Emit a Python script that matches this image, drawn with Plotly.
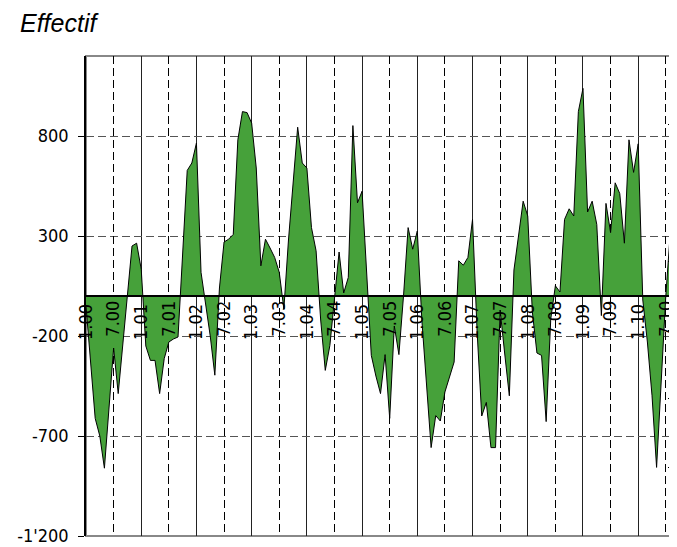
import plotly.graph_objects as go

# Monthly values, Jan 2000 (index 0) to Sep 2010 (index 128)
values = [
    -50, -330, -612, -700, -861, -560, -260, -488, -240, -30,
    250, 264, 134, -250, -322, -322, -488, -313, -230, -215,
    -205, 210, 628, 665, 765, 118, -35, -200, -396, 40,
    270, 284, 308, 781, 922, 917, 864, 640, 151, 284,
    240, 193, 118, -65, 280, 560, 844, 665, 640, 342,
    226, -120, -372, -247, -20, 220, 15, 93, 852, 466,
    524, 120, -297, -400, -488, -293, -612, -150, -293, 0,
    342, 234, 325, -125, -440, -758, -598, -625, -480, -400,
    -330, 176, 154, 193, 383, -180, -600, -532, -758, -758,
    -70, -290, -499, 130, 300, 474, 400, -80, -285, -297,
    -628, -115, 51, 20, 383, 436, 400, 922, 1038, 420,
    474, 358, -98, 463, 317, 566, 512, 264, 781, 618,
    761, -20, -230, -496, -857, -400, 0, 325, 134,
]
months = list(range(len(values)))

jan_ticks = [0, 12, 24, 36, 48, 60, 72, 84, 96, 108, 120]
jan_labels = ["1.00", "1.01", "1.02", "1.03", "1.04", "1.05",
              "1.06", "1.07", "1.08", "1.09", "1.10"]
jul_ticks = [6, 18, 30, 42, 54, 66, 78, 90, 102, 114, 126]
jul_labels = ["7.00", "7.01", "7.02", "7.03", "7.04", "7.05",
              "7.06", "7.07", "7.08", "7.09", "7.10"]
y_ticks = [-1200, -700, -200, 300, 800]
y_labels = ["-1'200", "-700", "-200", "300", "800"]

FONT = "Liberation Sans Narrow, DejaVu Sans Condensed, Liberation Sans, Arial, sans-serif"

fig = go.Figure()
fig.add_trace(go.Scatter(
    x=months, y=values, mode="lines", fill="tozeroy",
    fillcolor="rgb(70,161,58)", line=dict(color="black", width=1),
    hoverinfo="skip", showlegend=False,
))
# empty helper traces so that the overlaid axes get drawn
fig.add_trace(go.Scatter(x=[], y=[], xaxis="x2", yaxis="y", mode="lines",
                         hoverinfo="skip", showlegend=False))
fig.add_trace(go.Scatter(x=[], y=[], xaxis="x", yaxis="y2", mode="lines",
                         hoverinfo="skip", showlegend=False))

fig.update_layout(
    width=677, height=547,
    margin=dict(l=76, r=9, t=48, b=18),
    paper_bgcolor="white", plot_bgcolor="white",
    showlegend=False,
    title=dict(text="<i>Effectif</i>", x=12 / 677, xref="container", xanchor="left",
               y=1 - 15 / 547, yref="container", yanchor="middle",
               font=dict(family="Liberation Sans, Arial, sans-serif", size=25, color="black")),
    xaxis=dict(
        range=[0, 128], tickmode="array", tickvals=jan_ticks, ticktext=jan_labels,
        tickangle=-90, ticks="", showgrid=True, gridcolor="#222", gridwidth=1,
        zeroline=False, anchor="free", position=0.5, showline=True,
        linecolor="black", linewidth=1.5, layer="above traces",
        tickfont=dict(family=FONT, size=18, color="black"),
    ),
    xaxis2=dict(
        range=[0, 128], overlaying="x", tickmode="array", tickvals=jul_ticks,
        ticktext=jul_labels, tickangle=-90, ticks="", showgrid=True,
        gridcolor="black", gridwidth=1, griddash="8px,4px", zeroline=False,
        anchor="free", position=0.5, side="bottom", showline=False,
        tickfont=dict(family=FONT, size=18, color="black"),
    ),
    yaxis=dict(
        range=[-1200, 1200], tickmode="array", tickvals=y_ticks, ticktext=y_labels,
        showgrid=True, gridcolor="#555", gridwidth=1, griddash="8px,4px",
        zeroline=False, showline=True, linecolor="black", linewidth=1.5,
        ticks="outside", ticklen=6, tickcolor="black", ticklabelstandoff=6,
        tickfont=dict(family=FONT, size=18, color="black"),
    ),
    yaxis2=dict(
        range=[0, 7], overlaying="y", side="right", tickmode="linear", tick0=0,
        dtick=1, ticks="inside", ticklen=7, tickcolor="black",
        showticklabels=False, showgrid=False, zeroline=False,
        showline=True, linecolor="black", linewidth=1.5,
    ),
    shapes=[dict(type="rect", xref="paper", yref="paper", x0=0, x1=1, y0=0, y1=1,
                 line=dict(color="#888", width=2), layer="below")],
)

fig.write_html("out.html")
